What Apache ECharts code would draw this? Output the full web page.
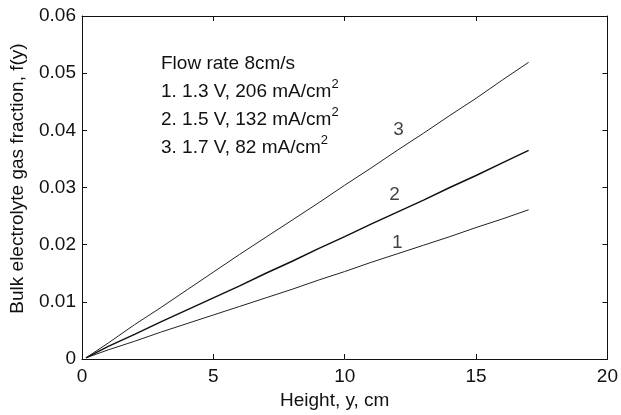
<!DOCTYPE html>
<html>
<head>
<meta charset="utf-8">
<script src="https://cdn.jsdelivr.net/npm/echarts@6/dist/echarts.min.js"></script>
<style>
  html, body { margin: 0; padding: 0; background: #fff; }
  #chart { width: 621px; height: 415px; }
</style>
</head>
<body>
<div id="chart"></div>
<script>
// heights along the electrode, cm
let heights = [0.15, 1, 2, 3, 4, 5, 6, 7, 8, 9, 10, 11, 12, 13, 14, 15, 16, 17];
// bulk gas fraction for the three cases
let curve1 = [0.0002, 0.0016, 0.0031, 0.0047, 0.0062, 0.0077, 0.0092, 0.0107, 0.0122, 0.0138, 0.0153, 0.0169, 0.0184, 0.0199, 0.0214, 0.0230, 0.0245, 0.0261];
let curve2 = [0.0002, 0.0022, 0.0043, 0.0065, 0.0086, 0.0107, 0.0128, 0.0150, 0.0171, 0.0193, 0.0214, 0.0236, 0.0257, 0.0278, 0.0300, 0.0321, 0.0343, 0.0365];
let curve3 = [0.0002, 0.0028, 0.0060, 0.0090, 0.0121, 0.0152, 0.0183, 0.0213, 0.0243, 0.0273, 0.0304, 0.0334, 0.0365, 0.0395, 0.0426, 0.0456, 0.0488, 0.0519];
// curve number labels [x, y, text]
let curveLabels = [[12.0, 0.0204, '1'], [11.9, 0.0288, '2'], [12.05, 0.0401, '3']];
let xTicks = [0, 5, 10, 15, 20];
let yTicks = [0, 0.01, 0.02, 0.03, 0.04, 0.05, 0.06];

let font = 'Liberation Sans, Arial, sans-serif';
let ink = '#111';

function pairs(ys) {
  return heights.map(function (x, i) { return [x, ys[i]]; });
}

let myChart = echarts.init(document.getElementById('chart'));

let boxAxis = {
  axisLine: { show: true, onZero: false, lineStyle: { color: ink, width: 1 } },
  axisTick: { show: true, inside: true, length: 5, lineStyle: { color: ink } },
  splitLine: { show: false }
};

let option = {
  animation: false,
  backgroundColor: '#fff',
  grid: { left: 81, top: 16, width: 528, height: 344 },
  xAxis: [
    Object.assign({}, boxAxis, {
      type: 'value', position: 'bottom',
      min: xTicks[0], max: xTicks[xTicks.length - 1], interval: 5,
      axisLabel: { color: ink, fontSize: 19, fontFamily: font, margin: 8 },
      name: 'Height, y, cm',
      nameLocation: 'middle',
      nameGap: 32,
      nameTextStyle: { color: ink, fontSize: 19, fontFamily: font, padding: [0, 20, 0, 0] }
    }),
    Object.assign({}, boxAxis, {
      type: 'value', position: 'top',
      min: xTicks[0], max: xTicks[xTicks.length - 1], interval: 5,
      axisLabel: { show: false }
    })
  ],
  yAxis: [
    Object.assign({}, boxAxis, {
      type: 'value', position: 'left',
      min: yTicks[0], max: yTicks[yTicks.length - 1], interval: 0.01,
      axisLabel: { color: ink, fontSize: 19, fontFamily: font, margin: 6 },
      name: 'Bulk electrolyte gas fraction, f(y)',
      nameLocation: 'middle',
      nameGap: 55,
      nameTextStyle: { color: ink, fontSize: 19, fontFamily: font, padding: [0, 0, 0, 18] }
    }),
    Object.assign({}, boxAxis, {
      type: 'value', position: 'right',
      min: yTicks[0], max: yTicks[yTicks.length - 1], interval: 0.01,
      axisLabel: { show: false }
    })
  ],
  graphic: [
    {
      type: 'text',
      left: 161,
      top: 50,
      style: {
        text: 'Flow rate 8cm/s\n1. 1.3 V, 206 mA/cm{s|2}\n2. 1.5 V, 132 mA/cm{s|2}\n3. 1.7 V, 82 mA/cm{s|2}',
        fill: ink,
        fontSize: 19,
        fontFamily: font,
        lineHeight: 28,
        rich: {
          s: { fontSize: 13, fontFamily: font, fill: ink, verticalAlign: 'top', lineHeight: 28, padding: [0, 0, 6, 0] }
        }
      }
    }
  ],
  series: [
    {
      name: '1', type: 'line', data: pairs(curve1), showSymbol: false, symbol: 'none',
      lineStyle: { color: '#222', width: 1 }
    },
    {
      name: '2', type: 'line', data: pairs(curve2), showSymbol: false, symbol: 'none',
      lineStyle: { color: '#111', width: 1.5 }
    },
    {
      name: '3', type: 'line', data: pairs(curve3), showSymbol: false, symbol: 'none',
      lineStyle: { color: '#222', width: 1 }
    },
    {
      type: 'scatter',
      symbolSize: 0,
      data: curveLabels,
      label: {
        show: true,
        position: 'inside',
        formatter: function (p) { return p.value[2]; },
        color: ink, fontSize: 19, fontFamily: font
      },
      silent: true
    }
  ]
};

myChart.setOption(option);
</script>
</body>
</html>
